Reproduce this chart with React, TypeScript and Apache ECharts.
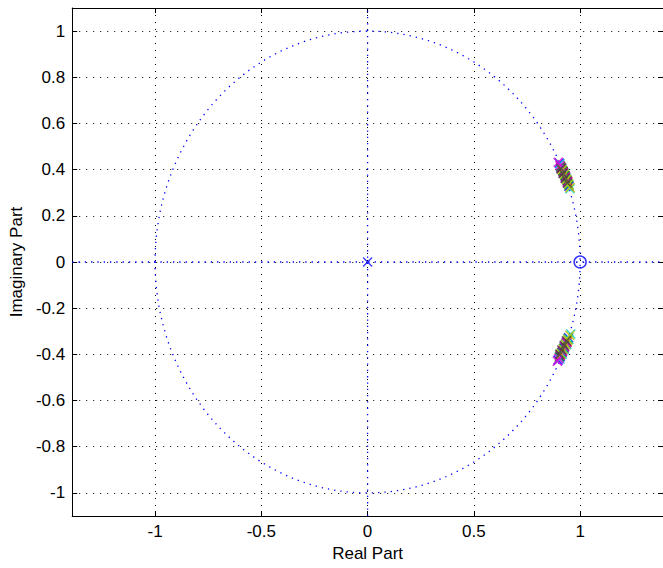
import React, { useEffect, useRef } from "react";
import * as echarts from "echarts";

// Axis ranges and ticks
const X_MIN = -1.39;
const X_MAX = 1.39;
const Y_MIN = -1.1;
const Y_MAX = 1.1;
const xTicks = [-1, -0.5, 0, 0.5, 1];
const yTicks = [-1, -0.8, -0.6, -0.4, -0.2, 0, 0.2, 0.4, 0.6, 0.8, 1];

// Unit circle: [centerRe, centerIm, radius]
const unitCircle = [[0, 0, 1]];

// Zeros and single pole at origin
const zeros = [[1, 0]];
const originPoles = [[0, 0]];

// Pole clusters, one list per plotted column (MATLAB colour order)
const polesBlue = [
  [0.902, 0.428], [0.910, 0.410], [0.920, 0.392], [0.930, 0.372], [0.940, 0.350], [0.948, 0.328],
  [0.896, -0.425], [0.906, -0.410], [0.915, -0.392], [0.925, -0.372], [0.936, -0.350], [0.946, -0.328],
];
const polesGreen = [
  [0.908, 0.415], [0.918, 0.396], [0.928, 0.376], [0.938, 0.355], [0.947, 0.334],
  [0.902, -0.412], [0.912, -0.394], [0.922, -0.375], [0.933, -0.354], [0.943, -0.333],
];
const polesRed = [
  [0.912, 0.408], [0.922, 0.389], [0.932, 0.368], [0.942, 0.348],
  [0.906, -0.404], [0.917, -0.386], [0.928, -0.366], [0.939, -0.346],
];
const polesCyan = [
  [0.905, 0.425], [0.915, 0.405], [0.925, 0.385], [0.935, 0.362], [0.944, 0.340], [0.952, 0.318],
  [0.905, -0.420], [0.916, -0.400], [0.926, -0.380], [0.937, -0.358], [0.947, -0.335], [0.956, -0.312],
];
const polesMagenta = [
  [0.897, 0.432], [0.905, 0.418], [0.912, 0.402], [0.921, 0.385], [0.930, 0.365], [0.940, 0.345],
  [0.893, -0.430], [0.900, -0.418], [0.908, -0.402], [0.917, -0.385], [0.926, -0.366], [0.935, -0.348],
];
const polesYellow = [
  [0.915, 0.400], [0.926, 0.380], [0.936, 0.358], [0.946, 0.338], [0.953, 0.322],
  [0.910, -0.398], [0.921, -0.378], [0.932, -0.357], [0.943, -0.337], [0.952, -0.318],
];
const polesBlack = [
  [0.910, 0.404], [0.920, 0.384], [0.930, 0.362], [0.940, 0.342],
  [0.904, -0.400], [0.914, -0.381], [0.925, -0.361], [0.936, -0.341],
];

const poleSets = [
  { data: polesBlue, color: "#0000ff" },
  { data: polesGreen, color: "#009000" },
  { data: polesRed, color: "#ff0000" },
  { data: polesCyan, color: "#00d0d0" },
  { data: polesMagenta, color: "#e000e0" },
  { data: polesYellow, color: "#c0c000" },
  { data: polesBlack, color: "#404040" },
];

const X_SYMBOL = "path://M0,0L10,10M0,10L10,0";
const FONT = "'Liberation Sans', Arial, Helvetica, sans-serif";

export default function App() {
  const ref = useRef<HTMLDivElement>(null);

  useEffect(() => {
    if (!ref.current) return;
    const chart = echarts.init(ref.current, undefined, { renderer: "svg" });

    const fmt = (v: number) => String(Math.round(v * 10) / 10);

    const option: any = {
      animation: false,
      backgroundColor: "#ffffff",
      grid: { left: 72, top: 8, width: 592, height: 508 },
      xAxis: [
        {
          type: "value",
          min: X_MIN,
          max: X_MAX,
          position: "bottom",
          name: "Real Part",
          nameLocation: "middle",
          nameGap: 27,
          nameTextStyle: { color: "#000", fontSize: 17, fontFamily: FONT },
          axisLine: { show: true, onZero: false, lineStyle: { color: "#000", width: 1 } },
          axisTick: { show: true, inside: true, length: 5, customValues: xTicks, lineStyle: { color: "#000" } },
          axisLabel: { customValues: xTicks, formatter: fmt, color: "#000", fontSize: 17, fontFamily: FONT, margin: 7 },
          splitLine: { show: true, lineStyle: { color: "#000", width: 1, type: [1, 6] } },
        },
        {
          type: "value",
          min: X_MIN,
          max: X_MAX,
          position: "top",
          axisLine: { show: true, onZero: false, lineStyle: { color: "#000", width: 1 } },
          axisTick: { show: true, inside: true, length: 5, customValues: xTicks, lineStyle: { color: "#000" } },
          axisLabel: { show: false, customValues: xTicks },
          splitLine: { show: false },
        },
      ],
      yAxis: [
        {
          type: "value",
          min: Y_MIN,
          max: Y_MAX,
          position: "left",
          name: "Imaginary Part",
          nameLocation: "middle",
          nameGap: 47,
          nameRotate: 90,
          nameTextStyle: { color: "#000", fontSize: 17, fontFamily: FONT },
          axisLine: { show: true, onZero: false, lineStyle: { color: "#000", width: 1 } },
          axisTick: { show: true, inside: true, length: 5, customValues: yTicks, lineStyle: { color: "#000" } },
          axisLabel: { customValues: yTicks, formatter: fmt, color: "#000", fontSize: 17, fontFamily: FONT, margin: 7 },
          splitLine: { show: true, lineStyle: { color: "#000", width: 1, type: [1, 6] } },
        },
        {
          type: "value",
          min: Y_MIN,
          max: Y_MAX,
          position: "right",
          axisLine: { show: true, onZero: false, lineStyle: { color: "#000", width: 1 } },
          axisTick: { show: true, inside: true, length: 5, customValues: yTicks, lineStyle: { color: "#000" } },
          axisLabel: { show: false, customValues: yTicks },
          splitLine: { show: false },
        },
      ],
      series: [
        {
          type: "custom",
          xAxisIndex: 0,
          yAxisIndex: 0,
          data: unitCircle,
          silent: true,
          renderItem: (params: any, api: any) => {
            const c = api.coord([api.value(0), api.value(1)]);
            const e = api.coord([api.value(0) + api.value(2), api.value(1) + api.value(2)]);
            return {
              type: "ellipse",
              shape: { cx: c[0], cy: c[1], rx: e[0] - c[0], ry: c[1] - e[1] },
              style: { fill: "none", stroke: "#0000ff", lineWidth: 1.3, lineDash: [1.3, 5] },
            };
          },
        },
        {
          type: "line",
          data: [[X_MIN, 0], [X_MAX, 0]],
          showSymbol: false,
          silent: true,
          lineStyle: { color: "#0000ff", width: 1.3, type: [1.3, 5] },
        },
        {
          type: "line",
          data: [[0, Y_MIN], [0, Y_MAX]],
          showSymbol: false,
          silent: true,
          lineStyle: { color: "#0000ff", width: 1.3, type: [1.3, 5] },
        },
        {
          type: "scatter",
          data: zeros,
          symbol: "circle",
          symbolSize: 12,
          itemStyle: { color: "rgba(0,0,0,0)", borderColor: "#0000ff", borderWidth: 1.5 },
        },
        {
          type: "scatter",
          data: originPoles,
          symbol: X_SYMBOL,
          symbolSize: 9,
          itemStyle: { color: "rgba(0,0,0,0)", borderColor: "#0000ff", borderWidth: 1.3 },
        },
        ...poleSets.map((p) => ({
          type: "scatter",
          data: p.data,
          symbol: X_SYMBOL,
          symbolSize: 9,
          itemStyle: { color: "rgba(0,0,0,0)", borderColor: p.color, borderWidth: 1.6 },
        })),
      ],
    };

    chart.setOption(option);
    return () => chart.dispose();
  }, []);

  return (
    <div
      ref={ref}
      style={{ position: "fixed", left: 0, top: 0, width: 663, height: 568, background: "#fff" }}
    />
  );
}
